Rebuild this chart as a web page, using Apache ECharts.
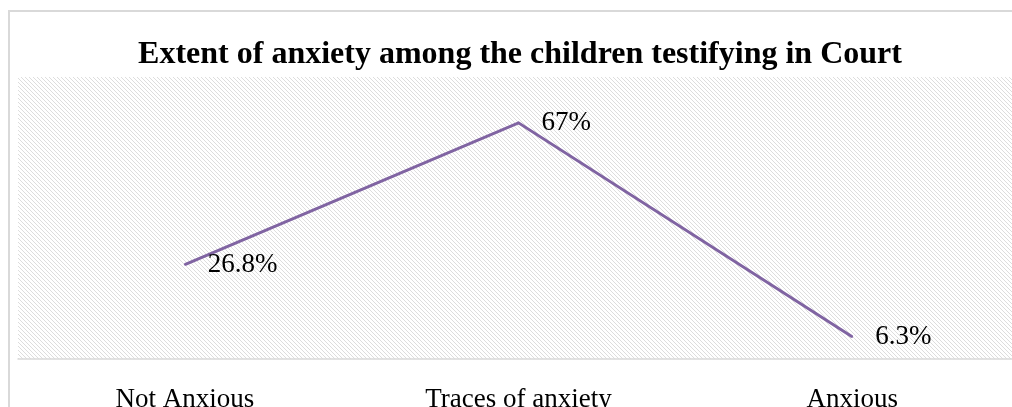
<!DOCTYPE html>
<html>
<head>
<meta charset="utf-8">
<style>
html,body{margin:0;padding:0;overflow:hidden;background:#fff;}
#c{width:1040px;height:430px;}
</style>
<script src="https://cdn.jsdelivr.net/npm/echarts@6/dist/echarts.min.js"></script>
</head>
<body>
<div id="c"></div>
<script>
var titleText = 'Extent of anxiety among the children testifying in Court';
var categories = ['Not Anxious', 'Traces of anxiety', 'Anxious'];
var values = [26.8, 67, 6.3];

// hatch pattern for plot background
var pc = document.createElement('canvas');
pc.width = 4; pc.height = 4;
var pctx = pc.getContext('2d');
pctx.fillStyle = '#ffffff';
pctx.fillRect(0, 0, 4, 4);
pctx.fillStyle = '#dddddd';
for (var i = 0; i < 4; i++) { pctx.fillRect(i, i, 1, 1); }

var chart = echarts.init(document.getElementById('c'), null, {renderer: 'canvas'});
chart.setOption({
  animation: false,
  backgroundColor: '#ffffff',
  title: {
    text: titleText,
    left: 'center',
    top: 34,
    textStyle: {fontFamily: 'Liberation Serif', fontWeight: 'bold', fontSize: 32, color: '#000'}
  },
  graphic: [{
    type: 'rect',
    shape: {x: 9, y: 11, width: 1200, height: 600},
    style: {fill: null, stroke: '#d9d9d9', lineWidth: 2},
    silent: true, z: -1
  }],
  grid: {
    left: 18, top: 77, width: 1001, height: 282,
    show: true, borderWidth: 0,
    backgroundColor: {image: pc, repeat: 'repeat'}
  },
  xAxis: {
    type: 'category',
    data: categories,
    boundaryGap: true,
    axisLine: {show: true, lineStyle: {color: '#d9d9d9', width: 1.5}},
    axisTick: {show: false},
    axisLabel: {margin: 27, fontFamily: 'Liberation Serif', fontSize: 27, color: '#000'}
  },
  yAxis: {
    type: 'value', min: 0, max: 80,
    show: false,
    splitLine: {show: false}
  },
  series: [{
    type: 'line',
    data: values,
    symbol: 'circle',
    symbolSize: 2,
    itemStyle: {color: '#8064A2'},
    lineStyle: {color: '#8064A2', width: 3, cap: 'butt', join: 'miter'},
    label: {
      show: true, position: 'right', distance: 22,
      formatter: '{c}%',
      fontFamily: 'Liberation Serif', fontSize: 27, color: '#000'
    }
  }]
});
</script>
</body>
</html>
